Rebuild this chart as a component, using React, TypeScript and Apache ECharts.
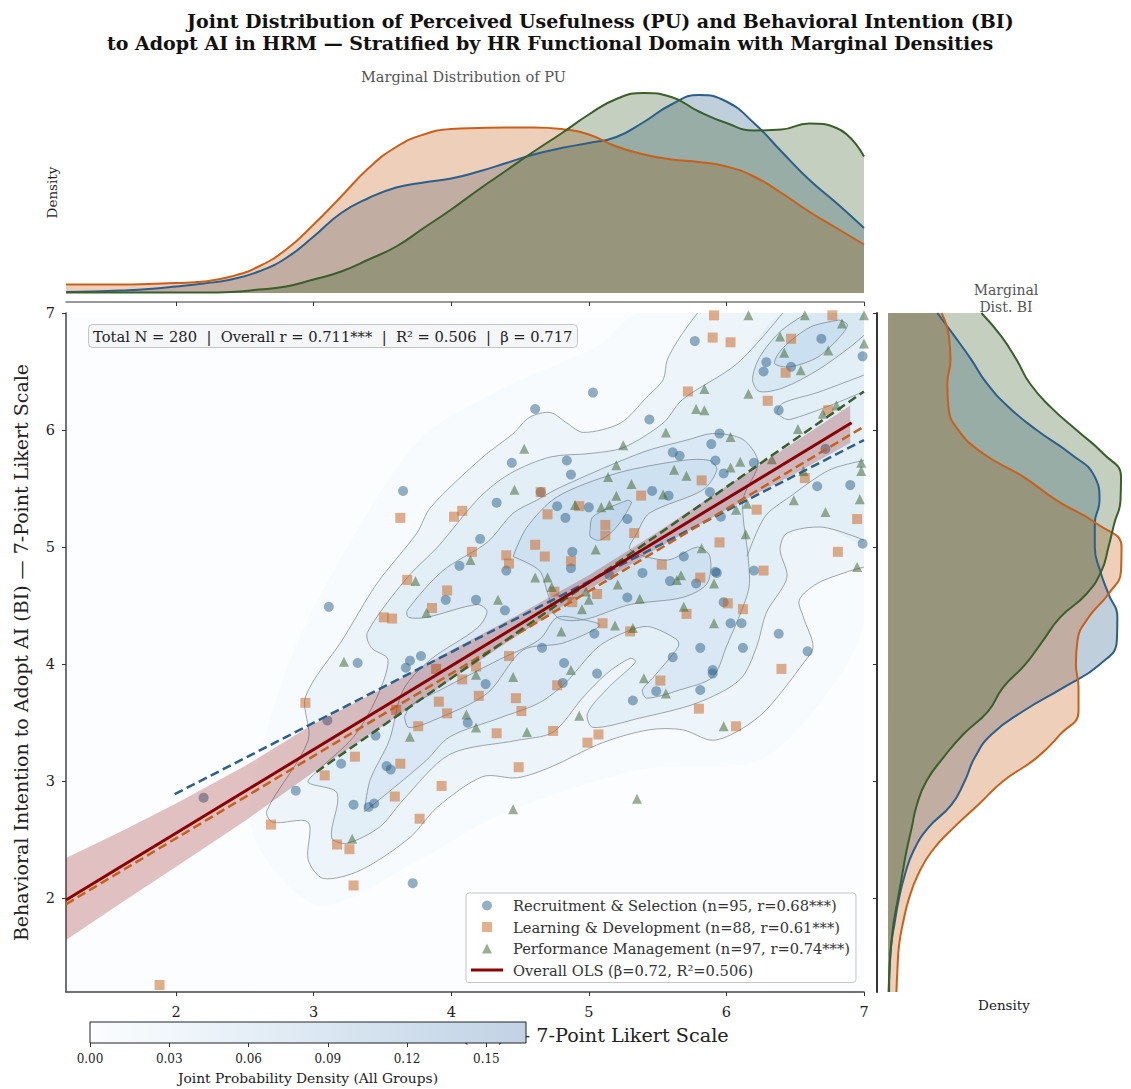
import React, { useEffect, useRef } from "react";
import * as echarts from "echarts";

const FONT = "DejaVu Serif";
const BLUE = "#2c5f8a";
const ORANGE = "#c8601a";
const GREEN = "#3a5f2a";
const RED = "#8b0000";

const titleLine1 = "Joint Distribution of Perceived Usefulness (PU) and Behavioral Intention (BI)";
const titleLine2 = "to Adopt AI in HRM — Stratified by HR Functional Domain with Marginal Densities";
const statsText = "Total N = 280  |  Overall r = 0.711***  |  R² = 0.506  |  β = 0.717";
const legendNames = [
  "Recruitment & Selection (n=95, r=0.68***)",
  "Learning & Development (n=88, r=0.61***)",
  "Performance Management (n=97, r=0.74***)",
  "Overall OLS (β=0.72, R²=0.506)",
];
const likertTicks = [2, 3, 4, 5, 6, 7];
const colorbarTicks = [0, 0.03, 0.06, 0.09, 0.12, 0.15];

const recruitment = [
  [5.77,6.76],[6.29,6.58],[6.27,6.50],[6.47,6.54],[6.69,6.78],[6.99,6.63],[6.38,6.17],[5.44,6.09],[5.03,6.32],[4.61,6.18],
  [4.44,5.72],[4.84,5.74],[4.87,5.62],[5.28,5.24],[6.66,5.52],[6.90,5.53],[6.72,5.84],[6.99,5.03],[6.38,4.26],[6.03,4.35],
  [6.11,4.35],[6.20,4.80],[5.98,4.53],[5.39,4.78],[5.59,4.71],[5.78,4.69],[5.93,4.78],[5.92,4.79],[5.69,4.92],[5.96,5.26],
  [5.88,5.47],[5.98,5.63],[5.92,5.74],[5.89,5.88],[5.95,5.97],[6.20,5.72],[5.66,5.78],[5.61,5.81],[5.46,5.48],[5.58,5.44],
  [5.61,4.06],[5.81,4.14],[6.12,4.14],[6.59,4.11],[5.90,3.95],[5.90,3.92],[5.81,3.78],[5.49,3.77],[5.32,3.69],
  [3.65,5.48],[4.33,5.38],[4.77,5.35],[4.83,5.25],[5.00,5.34],[4.21,5.07],[4.06,4.84],[4.88,4.96],[4.87,4.82],[4.40,4.80],
  [3.96,4.55],[4.18,4.55],[4.39,4.46],[5.28,4.57],[3.32,4.01],[3.70,4.03],[3.67,3.97],[3.78,4.07],[4.66,4.14],[5.04,4.26],
  [4.82,4.01],[5.06,3.92],[4.81,3.84],[4.25,3.83],[4.12,3.50],[3.45,3.39],[5.15,4.76],[4.65,5.47],
  [2.20,2.86],[3.10,3.52],[3.20,3.15],[3.53,3.13],[3.56,3.10],[2.87,2.92],[3.29,2.80],[3.40,2.78],[3.44,2.81],[3.72,2.13],[3.11,4.49],
];
const learning = [
  [5.90,6.79],[6.03,6.75],[5.91,6.98],[5.72,6.33],[6.30,6.25],[6.47,6.78],[6.43,6.49],[6.74,6.17],[5.82,5.57],[5.38,5.44],
  [5.33,5.12],[5.95,5.04],[5.53,4.85],[6.22,5.32],[6.57,5.59],[6.95,5.24],[6.81,4.96],[6.27,4.80],[5.81,4.74],[6.01,4.52],
  [6.12,4.47],[5.71,4.43],[6.77,6.98],
  [4.65,5.47],[3.63,5.25],[4.02,5.26],[4.08,5.31],[4.70,5.28],[4.93,5.35],[5.12,5.19],[5.12,5.10],[4.15,4.96],[4.40,4.93],
  [4.42,4.86],[4.61,5.02],[4.68,4.92],[4.87,4.88],[3.68,4.72],[3.97,4.63],[3.86,4.48],[3.51,4.40],[3.57,4.39],[4.75,4.62],
  [5.10,4.35],[5.06,4.60],[4.88,4.53],[3.89,3.96],[4.42,4.07],[4.18,3.98],[4.08,3.87],[4.20,3.73],[4.77,3.82],[3.91,3.68],
  [3.97,3.58],[3.76,3.47],[4.47,3.71],[4.51,3.60],[3.60,3.61],[4.33,3.41],[4.74,3.43],[5.07,3.40],[4.99,3.33],[5.30,4.28],
  [5.52,3.86],[6.40,3.96],[5.80,3.62],[6.07,3.47],[4.49,3.12],
  [2.94,3.67],[3.30,3.21],[3.08,3.05],[3.63,3.15],[3.59,2.87],[3.93,2.96],[3.77,2.68],[2.69,2.63],[3.17,2.46],[3.26,2.42],[3.29,2.11],[1.88,1.26],
];
const performance = [
  [6.16,6.98],[6.57,6.98],[6.84,6.91],[6.39,6.80],[6.42,6.66],[6.74,6.68],[6.54,6.51],[6.16,6.31],[5.84,6.35],[5.78,6.18],
  [5.84,6.17],[6.80,6.21],[6.70,6.14],[6.52,6.01],[5.56,5.98],[5.25,5.87],[4.53,5.84],[5.20,5.70],[5.14,5.60],[5.31,5.54],
  [5.62,5.66],[5.71,5.61],[6.03,5.68],[6.10,5.73],[6.03,5.94],[6.33,5.75],[6.56,5.65],[6.98,5.72],[6.98,5.65],[6.97,5.41],
  [6.49,5.40],[6.72,5.30],[6.14,5.11],[6.07,5.32],[6.15,5.37],[5.54,5.45],[5.82,4.99],[5.67,4.76],[5.64,4.72],[5.91,4.69],
  [5.69,4.49],[5.91,4.35],[5.37,4.56],[5.32,4.31],[6.95,4.83],[7.00,6.74],[7.00,6.98],
  [4.46,5.49],[4.90,5.36],[5.09,5.34],[5.15,5.36],[5.20,5.44],[4.14,4.89],[5.05,4.98],[3.74,4.71],[3.82,4.44],[4.34,4.55],
  [4.61,4.74],[4.70,4.74],[4.73,4.66],[5.21,4.68],[4.95,4.47],[5.00,4.55],[4.98,4.62],[5.19,4.33],[4.80,4.28],[3.22,4.02],
  [4.18,3.91],[4.45,3.89],[4.87,3.95],[4.11,3.57],[4.18,3.46],[3.70,3.38],[4.55,3.42],[4.93,3.56],
  [5.40,3.88],[5.56,3.75],[5.98,3.47],[4.45,2.76],[5.35,2.85],[3.28,2.51],
];

const olsLine = [[1.2,1.986],[6.91,6.063]];
const olsBandX = [1.2,1.6,2,2.5,3,3.5,4,4.5,5,5.5,6,6.5,6.9];
const olsBandUpper = [2.345,2.57,2.81,3.13,3.49,3.79,4.12,4.43,4.76,5.13,5.52,5.90,6.21];
const olsBandLower = [1.645,1.96,2.27,2.66,3.08,3.47,3.87,4.26,4.64,4.99,5.32,5.63,5.89];
const fitRecruitment = [[1.99,2.89],[7,5.915]];
const fitLearning = [[1.2,1.95],[7,6.03]];
const fitPerformance = [[3.02,3.08],[7,6.33]];

const contourGlow = [[5.37,7],[5.08,6.73],[4.35,6.34],[3.77,5.92],[3.19,4.89],[2.83,4.04],[2.54,2.84],[2.61,2.41],[3.05,1.94],[3.77,2.33],[4.35,2.71],[5.37,3.10],[6.24,3.18],[6.75,3.78],[7,4.38]];
const contourOuter = [[5.79,7],[5.66,6.79],[5.57,6.60],[5.54,6.43],[5.42,6.28],[5.23,6.06],[4.96,5.98],[4.84,6.06],[4.72,6.15],[4.57,6.11],[4.45,5.97],[4.23,5.77],[3.85,5.34],[3.75,5.12],[3.46,4.69],[3.21,4.21],[2.94,3.72],[2.96,3.35],[2.66,2.75],[2.70,2.65],[2.96,2.65],[2.96,2.33],[3.07,2.17],[3.34,2.24],[3.70,2.52],[3.90,2.78],[4.23,3.04],[4.48,3.03],[4.72,3.12],[5.10,3.33],[5.44,3.44],[5.68,3.44],[5.90,3.35],[6.10,3.44],[6.29,3.61],[6.56,4.01],[6.63,4.15],[6.56,4.40],[6.53,4.55],[6.66,4.69],[6.88,4.79],[7,4.83]];
const contourSecond = [[6.41,7],[6.08,6.57],[5.68,6.26],[5.54,6.06],[5.25,5.85],[5.01,5.80],[4.72,5.77],[4.43,5.63],[4.21,5.43],[3.90,5.00],[3.68,4.74],[3.39,4.27],[3.42,4.14],[3.54,4.04],[3.46,3.72],[3.29,3.38],[3.02,3.08],[2.96,2.99],[3.17,2.90],[3.13,2.52],[3.24,2.47],[3.48,2.61],[3.65,2.84],[3.99,3.23],[4.48,3.35],[4.74,3.42],[4.96,3.72],[5.13,3.92],[5.30,4.05],[5.34,4.02],[5.15,3.81],[4.99,3.58],[5.03,3.46],[5.37,3.54],[5.79,3.67],[6.10,3.87],[6.22,4.15],[6.29,4.44],[6.44,4.74],[6.39,4.98],[6.44,5.12],[6.70,5.17],[7,5.06]];
const contourThird = [[3.37,2.74],[3.41,3.01],[3.55,3.35],[3.65,3.78],[3.85,4.04],[4.19,4.31],[4.26,4.45],[4.19,4.51],[3.82,4.40],[3.69,4.40],[3.68,4.46],[3.94,4.80],[4.26,5.04],[4.45,5.29],[4.62,5.40],[4.79,5.51],[5.39,5.81],[5.73,5.92],[5.90,5.97],[6.12,5.92],[6.23,5.72],[6.12,5.40],[6.16,4.89],[6.16,4.63],[6.00,4.15],[5.90,3.89],[5.66,3.78],[5.42,3.71],[5.39,3.78],[5.47,3.89],[5.65,4.15],[5.64,4.21],[5.44,4.32],[5.30,4.29],[5.07,4.15],[4.83,3.84],[4.64,3.67],[4.35,3.54],[3.99,3.38],[3.82,3.18],[3.65,3.01]];
const contourLowerLeft = [[3.66,3.55],[3.69,3.46],[3.87,3.52],[4.26,3.75],[4.52,4.12],[4.81,4.18],[5.08,4.33],[4.96,4.38],[4.77,4.40],[4.64,4.21],[4.35,4.04],[3.92,3.78],[3.71,3.65]];
const contourCentre = [[4.45,4.92],[4.55,5.17],[4.77,5.43],[5.20,5.63],[5.68,5.74],[5.88,5.74],[5.93,5.66],[5.83,5.49],[5.44,5.29],[5.35,5.12],[5.30,4.98],[5.57,4.89],[5.79,5.00],[5.88,4.92],[5.86,4.69],[5.68,4.57],[5.30,4.51],[4.96,4.38],[4.77,4.40],[4.70,4.61],[4.64,4.80]];
const contourPeak = [[5.01,5.15],[5.03,5.26],[5.28,5.40],[5.31,5.38],[5.20,5.17],[5.08,5.06],[5.01,5.09]];
const contourTopRight = [[6.56,6.98],[6.39,6.84],[6.24,6.62],[6.19,6.43],[6.24,6.33],[6.41,6.36],[6.66,6.51],[6.90,6.71],[7,6.81]];
const contourTopRightInner = [[6.82,6.94],[6.61,6.88],[6.41,6.70],[6.35,6.57],[6.46,6.54],[6.66,6.62],[6.82,6.79],[6.88,6.90]];
const contourRightArm = [[7,5.74],[6.75,5.66],[6.46,5.43],[6.28,5.26],[6.15,4.92]];
const contourRightSliver = [[7,6.47],[6.66,6.32],[6.41,6.23],[6.37,6.15],[6.46,6.09],[7,6.33]];

const puX = [1.2,1.4,1.6,1.8,2,2.2,2.4,2.6,2.8,3,3.2,3.4,3.6,3.8,4,4.2,4.4,4.6,4.8,5,5.2,5.4,5.6,5.8,6,6.2,6.4,6.6,6.8,7];
const puRecruitment = [.002,.003,.005,.008,.013,.019,.027,.043,.07,.113,.16,.19,.211,.221,.229,.243,.26,.277,.29,.3,.312,.342,.377,.396,.383,.34,.283,.227,.18,.13];
const puLearning = [.017,.017,.017,.018,.02,.023,.033,.053,.087,.137,.193,.25,.292,.317,.328,.33,.331,.331,.328,.317,.293,.277,.267,.262,.253,.233,.2,.163,.13,.097];
const puPerformance = [.001,.001,.001,.001,.001,.001,.002,.007,.013,.027,.043,.067,.093,.13,.167,.207,.245,.283,.319,.357,.388,.4,.392,.363,.34,.325,.327,.339,.33,.273];

const biY = ["7.0","6.8","6.6","6.4","6.2","6.0","5.8","5.6","5.4","5.2","5.0","4.8","4.6","4.4","4.2","4.0","3.8","3.6","3.4","3.2","3.0","2.8","2.6","2.4","2.2","2.0","1.8","1.6","1.4","1.2"];
const biRecruitment = [.094,.127,.159,.188,.229,.283,.347,.394,.403,.394,.394,.404,.42,.437,.436,.404,.334,.258,.197,.165,.146,.121,.076,.048,.032,.021,.013,.006,.003,.002];
const biLearning = [.102,.116,.119,.113,.115,.134,.181,.258,.321,.398,.445,.444,.42,.382,.361,.358,.363,.363,.328,.283,.219,.172,.124,.083,.057,.04,.029,.021,.018,.016];
const biPerformance = [.178,.216,.245,.27,.309,.359,.41,.444,.443,.431,.42,.407,.378,.328,.295,.262,.219,.191,.143,.105,.073,.055,.045,.035,.027,.019,.011,.006,.003,.001];

const CONTOURS: any[] = [
  { pts: contourGlow, a: 0.02, stroke: false, corner: true },
  { pts: contourOuter, a: 0.05, stroke: true, corner: true },
  { pts: contourSecond, a: 0.05, stroke: true, corner: true },
  { pts: contourThird, a: 0.06, stroke: true, closed: true },
  { pts: contourLowerLeft, a: 0.04, stroke: true, closed: true },
  { pts: contourCentre, a: 0.07, stroke: true, closed: true },
  { pts: contourPeak, a: 0.09, stroke: true, closed: true },
  { pts: contourTopRight, a: 0.07, stroke: true, corner: true },
  { pts: contourTopRightInner, a: 0.09, stroke: true, closed: true },
  { pts: contourRightArm, a: 0, stroke: true },
  { pts: contourRightSliver, a: 0, stroke: true },
];

function renderContour(params: any, api: any) {
  const c = CONTOURS[params.dataIndex];
  const line = c.pts.map((p: number[]) => api.coord(p));
  const children: any[] = [];
  if (c.a > 0) {
    const area = c.corner ? [...c.pts, [7, 7]].map((p: number[]) => api.coord(p)) : line;
    children.push({ type: "polygon", shape: { points: area, smooth: 0.3 }, style: { fill: `rgba(66,135,200,${c.a})`, stroke: "none" } });
  }
  if (c.stroke !== false) {
    const open = c.closed ? [...line, line[0]] : line;
    children.push({ type: "polyline", shape: { points: open, smooth: 0.3 }, style: { fill: "none", stroke: "rgba(105,115,125,0.62)", lineWidth: 1 } });
  }
  return { type: "group", children };
}

function renderBand(_p: any, api: any) {
  const up = olsBandX.map((x, i) => api.coord([x, olsBandUpper[i]]));
  const lo = olsBandX.map((x, i) => api.coord([x, olsBandLower[i]])).reverse();
  return { type: "polygon", shape: { points: [...up, ...lo] }, style: { fill: "rgba(139,0,0,0.24)", stroke: "none" } };
}

function renderColorbar(_p: any, api: any) {
  const a = api.coord([0, 1]);
  const b = api.coord([0.165, 0]);
  return {
    type: "rect",
    shape: { x: a[0], y: a[1], width: b[0] - a[0], height: b[1] - a[1] },
    style: {
      fill: new echarts.graphic.LinearGradient(0, 0, 1, 0, [
        { offset: 0, color: "#fbfdfe" },
        { offset: 0.2, color: "#f0f6fb" },
        { offset: 0.4, color: "#e3edf6" },
        { offset: 0.6, color: "#d7e4f0" },
        { offset: 0.8, color: "#ccdbea" },
        { offset: 1, color: "#c2d2e5" },
      ]),
      stroke: "#222",
      lineWidth: 1,
    },
  };
}

const txt = (size: number, color = "#222", weight: any = "normal") => ({ fontFamily: FONT, fontSize: size, color, fontWeight: weight });

const hiddenAxis = (extra: any) => ({ show: false, ...extra });

function scatter(name: string, data: number[][], symbol: string, color: string) {
  return { name, type: "scatter", data, symbol, symbolSize: 10, clip: true, z: 3, xAxisIndex: 0, yAxisIndex: 0, itemStyle: { color, opacity: 0.5 } };
}
function dashed(name: string, data: number[][], color: string) {
  return { name, type: "line", data, symbol: "none", clip: true, z: 5, xAxisIndex: 0, yAxisIndex: 0, lineStyle: { color, width: 2.5, type: [9, 4.5] } };
}
function puSeries(name: string, vals: number[], color: string) {
  return {
    name, type: "line", data: puX.map((x, i) => [x, vals[i]]), symbol: "none", smooth: 0.5, xAxisIndex: 1, yAxisIndex: 1,
    lineStyle: { color, width: 2 }, areaStyle: { color, opacity: 0.3 },
  };
}
function biSeries(name: string, vals: number[], color: string) {
  return {
    name, type: "line", data: vals, symbol: "none", smooth: 0.5, xAxisIndex: 2, yAxisIndex: 2,
    lineStyle: { color, width: 2 }, areaStyle: { color, opacity: 0.3 },
  };
}

export default function App() {
  const ref = useRef<HTMLDivElement>(null);
  useEffect(() => {
    document.body.style.margin = "0";
    const chart = echarts.init(ref.current!, null, { renderer: "svg" });
    const option: any = {
      animation: false,
      backgroundColor: "#ffffff",
      title: [
        { text: titleLine1, left: 187, top: 11, padding: 0, textStyle: txt(19, "#111", "bold") },
        { text: titleLine2, left: 107, top: 33, padding: 0, textStyle: txt(19, "#111", "bold") },
        { text: "Marginal Distribution of PU", left: 361, top: 69, padding: 0, textStyle: txt(14.5, "#555") },
        { text: "Marginal\nDist. BI", left: 1006, top: 281, padding: 0, textAlign: "center", textStyle: { ...txt(14, "#555"), lineHeight: 17 } },
        {
          text: statsText, left: 88, top: 324, padding: [5, 5, 4, 5], backgroundColor: "rgba(243,245,247,0.92)",
          borderColor: "#c4c4c4", borderWidth: 1, borderRadius: 4, textStyle: txt(14.7, "#222"),
        },
      ],
      legend: {
        left: 466, top: 893, orient: "vertical", padding: [5, 6, 5, 5], itemGap: 6.5, itemWidth: 32, itemHeight: 10, selectedMode: false,
        backgroundColor: "rgba(255,255,255,0.9)", borderColor: "#c4c4c4", borderWidth: 1, borderRadius: 3,
        textStyle: { ...txt(14.65, "#333"), padding: [0, 0, 0, 5] },
        data: [
          { name: legendNames[0], icon: "circle", itemStyle: { color: BLUE, opacity: 0.5 } },
          { name: legendNames[1], icon: "path://M0,0H10V10H0Z", itemStyle: { color: ORANGE, opacity: 0.5 } },
          { name: legendNames[2], icon: "path://M5,0L10,10H0Z", itemStyle: { color: GREEN, opacity: 0.5 } },
          { name: legendNames[3], icon: "path://M0,0H32V3H0Z", itemStyle: { color: RED, opacity: 1 } },
        ],
      },
      grid: [
        { left: 66, top: 313, width: 798, height: 679, show: true, backgroundColor: "#fbfdfe", borderWidth: 0 },
        { left: 66, top: 83, width: 798, height: 219 },
        { left: 877, top: 313, width: 254, height: 679 },
        { left: 90, top: 1022, width: 436, height: 21 },
      ],
      xAxis: [
        {
          gridIndex: 0, type: "value", min: 1.2, max: 7, splitLine: { show: false },
          axisLine: { lineStyle: { color: "#444", width: 1.5 } },
          axisTick: { length: 4, lineStyle: { color: "#333" }, customValues: likertTicks },
          axisLabel: { ...txt(14.5), margin: 12, customValues: likertTicks },
          name: "Perceived Usefulness (PU) — 7-Point Likert Scale", nameLocation: "middle", nameGap: 34,
          nameTextStyle: { ...txt(19.2), padding: [0, 0, 0, 46] },
        },
        {
          gridIndex: 1, type: "value", min: 1.2, max: 7, splitLine: { show: false },
          axisLine: { onZero: false, lineStyle: { color: "#777", width: 1.5 } },
          axisTick: { length: 4, lineStyle: { color: "#333" }, customValues: likertTicks },
          axisLabel: { show: false },
        },
        {
          gridIndex: 2, type: "value", min: -0.021, max: 0.463, splitLine: { show: false },
          axisLine: { show: false }, axisTick: { show: false }, axisLabel: { show: false },
          name: "Density", nameLocation: "middle", nameGap: 6, nameTextStyle: txt(13.5),
        },
        {
          gridIndex: 3, type: "value", min: 0, max: 0.165, splitLine: { show: false },
          axisLine: { show: false },
          axisTick: { length: 4, lineStyle: { color: "#333" }, customValues: colorbarTicks },
          axisLabel: { ...txt(12), margin: 10, customValues: colorbarTicks, formatter: (v: number) => v.toFixed(2) },
          name: "Joint Probability Density (All Groups)", nameLocation: "middle", nameGap: 28, nameTextStyle: txt(13.8),
        },
      ],
      yAxis: [
        {
          gridIndex: 0, type: "value", min: 1.2, max: 7, splitLine: { show: false },
          axisLine: { show: true, lineStyle: { color: "#444", width: 1.5 } },
          axisTick: { show: true, length: 4, lineStyle: { color: "#333" }, customValues: likertTicks },
          axisLabel: { ...txt(14.5), margin: 11, customValues: likertTicks },
          name: "Behavioral Intention to Adopt AI (BI) — 7-Point Likert Scale", nameLocation: "middle", nameGap: 36, nameTextStyle: txt(19),
        },
        {
          gridIndex: 1, type: "value", min: -0.018, max: 0.42, splitLine: { show: false },
          axisLine: { show: false }, axisTick: { show: false }, axisLabel: { show: false },
          name: "Density", nameLocation: "middle", nameGap: 7, nameTextStyle: txt(13.5),
        },
        { gridIndex: 2, type: "category", data: biY, inverse: true, boundaryGap: false, axisLine: { show: false }, axisTick: { show: false }, axisLabel: { show: false }, splitLine: { show: false } },
        {
          gridIndex: 2, type: "value", min: 1.2, max: 7, position: "left", splitLine: { show: false },
          axisLine: { show: true, onZero: false, lineStyle: { color: "#333", width: 2 } },
          axisTick: { show: true, length: 4, lineStyle: { color: "#333" }, customValues: likertTicks },
          axisLabel: { show: false },
        },
        hiddenAxis({ gridIndex: 3, type: "value", min: 0, max: 1 }),
      ],
      series: [
        {
          name: "kde", type: "custom", xAxisIndex: 0, yAxisIndex: 0, clip: true, z: 1, renderItem: renderContour,
          data: CONTOURS.map((c, i) => [c.pts[0][0], c.pts[0][1], i]), silent: true,
        },
        scatter(legendNames[0], recruitment, "circle", BLUE),
        scatter(legendNames[1], learning, "rect", ORANGE),
        scatter(legendNames[2], performance, "triangle", GREEN),
        {
          name: "band", type: "custom", xAxisIndex: 0, yAxisIndex: 0, clip: true, z: 4, renderItem: renderBand,
          data: [[olsBandX[0], olsBandLower[0]]], silent: true,
        },
        dashed("fitRecruitment", fitRecruitment, BLUE),
        dashed("fitLearning", fitLearning, ORANGE),
        dashed("fitPerformance", fitPerformance, GREEN),
        { name: legendNames[3], type: "line", data: olsLine, symbol: "none", clip: true, z: 6, xAxisIndex: 0, yAxisIndex: 0, lineStyle: { color: RED, width: 3 } },
        puSeries("puRecruitment", puRecruitment, BLUE),
        puSeries("puLearning", puLearning, ORANGE),
        puSeries("puPerformance", puPerformance, GREEN),
        biSeries("biRecruitment", biRecruitment, BLUE),
        biSeries("biLearning", biLearning, ORANGE),
        biSeries("biPerformance", biPerformance, GREEN),
        {
          name: "colorbar", type: "custom", xAxisIndex: 3, yAxisIndex: 4, z: 8, renderItem: renderColorbar,
          data: [[0, 0]], silent: true,
        },
      ],
    };
    chart.setOption(option);
    return () => chart.dispose();
  }, []);
  return <div ref={ref} style={{ position: "absolute", left: 0, top: 0, width: 1131, height: 1089 }} />;
}
